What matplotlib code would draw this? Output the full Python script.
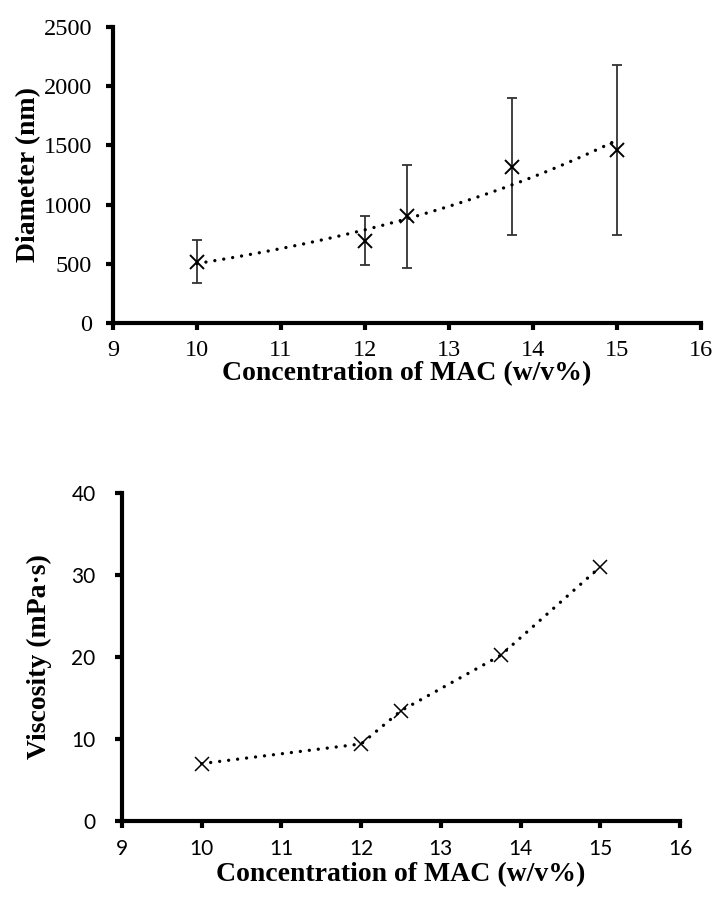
import numpy as np
import matplotlib
matplotlib.use("Agg")
import matplotlib.pyplot as plt

# Data
conc = [10, 12, 12.5, 13.75, 15]
diameter = [518, 695, 904, 1320, 1461]
diam_low = [340, 487, 465, 746, 741]
diam_high = [701, 904, 1337, 1900, 2177]
viscosity = [7.0, 9.4, 13.45, 20.2, 31.0]

x_ticks = [9, 10, 11, 12, 13, 14, 15, 16]
y1_ticks = [0, 500, 1000, 1500, 2000, 2500]
y2_ticks = [0, 10, 20, 30, 40]

W, H = 715, 898
fig = plt.figure(figsize=(W / 100, H / 100), dpi=100)

serif = "Liberation Serif"
sans = "Lato"
LW = 3.0

def style_axes(ax, tickfont, ticksize, ypad, xpad):
    for s in ["top", "right"]:
        ax.spines[s].set_visible(False)
    for s in ["left", "bottom"]:
        ax.spines[s].set_linewidth(LW)
        ax.spines[s].set_capstyle("projecting")
    ax.tick_params(direction="out", length=5, width=LW, labelsize=ticksize)
    ax.tick_params(axis="y", pad=ypad)
    ax.tick_params(axis="x", pad=xpad)
    for lab in ax.get_xticklabels() + ax.get_yticklabels():
        lab.set_fontfamily(tickfont)

# Top chart
ax1 = fig.add_axes([113 / W, 1 - 323 / H, (701 - 113) / W, (323 - 27) / H])
c = np.array(conc)
d = np.array(diameter)
yerr = [d - np.array(diam_low), np.array(diam_high) - d]
ax1.errorbar(c, d, yerr=yerr, fmt="none", ecolor="#333333", elinewidth=1.3,
             capsize=3.7, capthick=1.3, zorder=2)
ax1.plot(c, d, linestyle="none", marker="x", markersize=10, markeredgewidth=1.4,
         color="black", zorder=4)
# exponential trendline fitted to data
b, a = np.polyfit(c, np.log(d), 1)
xt = np.linspace(c.min(), c.max(), 200)
ax1.plot(xt, np.exp(a + b * xt), color="black", linewidth=2.4,
         linestyle=(0, (0.01, 2.7)), dash_capstyle="round", zorder=3)
ax1.set_xlim(9, 16)
ax1.set_ylim(0, 2500)
ax1.set_xticks(x_ticks)
ax1.set_yticks(y1_ticks)
style_axes(ax1, serif, 17.5, 10, 7)
ax1.set_xlabel("Concentration of MAC (w/v%)", fontfamily=serif, fontweight="bold",
               fontsize=20, labelpad=0)
ax1.set_ylabel("Diameter (nm)", fontfamily=serif, fontweight="bold",
               fontsize=20, labelpad=2)

# Bottom chart
ax2 = fig.add_axes([122 / W, 1 - 821 / H, (680 - 122) / W, (821 - 493) / H])
ax2.plot(conc, viscosity, color="black", linewidth=2.4,
         linestyle=(0, (0.01, 2.7)), dash_capstyle="round", zorder=3)
ax2.plot(conc, viscosity, linestyle="none", marker="x", markersize=10,
         markeredgewidth=1.1, color="black", zorder=4)
ax2.set_xlim(9, 16)
ax2.set_ylim(0, 40)
ax2.set_xticks(x_ticks)
ax2.set_yticks(y2_ticks)
style_axes(ax2, sans, 15, 14, 8)
ax2.set_xlabel("Concentration of MAC (w/v%)", fontfamily=serif, fontweight="bold",
               fontsize=20, labelpad=2)
ax2.set_ylabel("Viscosity (mPa·s)", fontfamily=serif, fontweight="bold",
               fontsize=20, labelpad=14)

fig.savefig("out.png", dpi=100)
